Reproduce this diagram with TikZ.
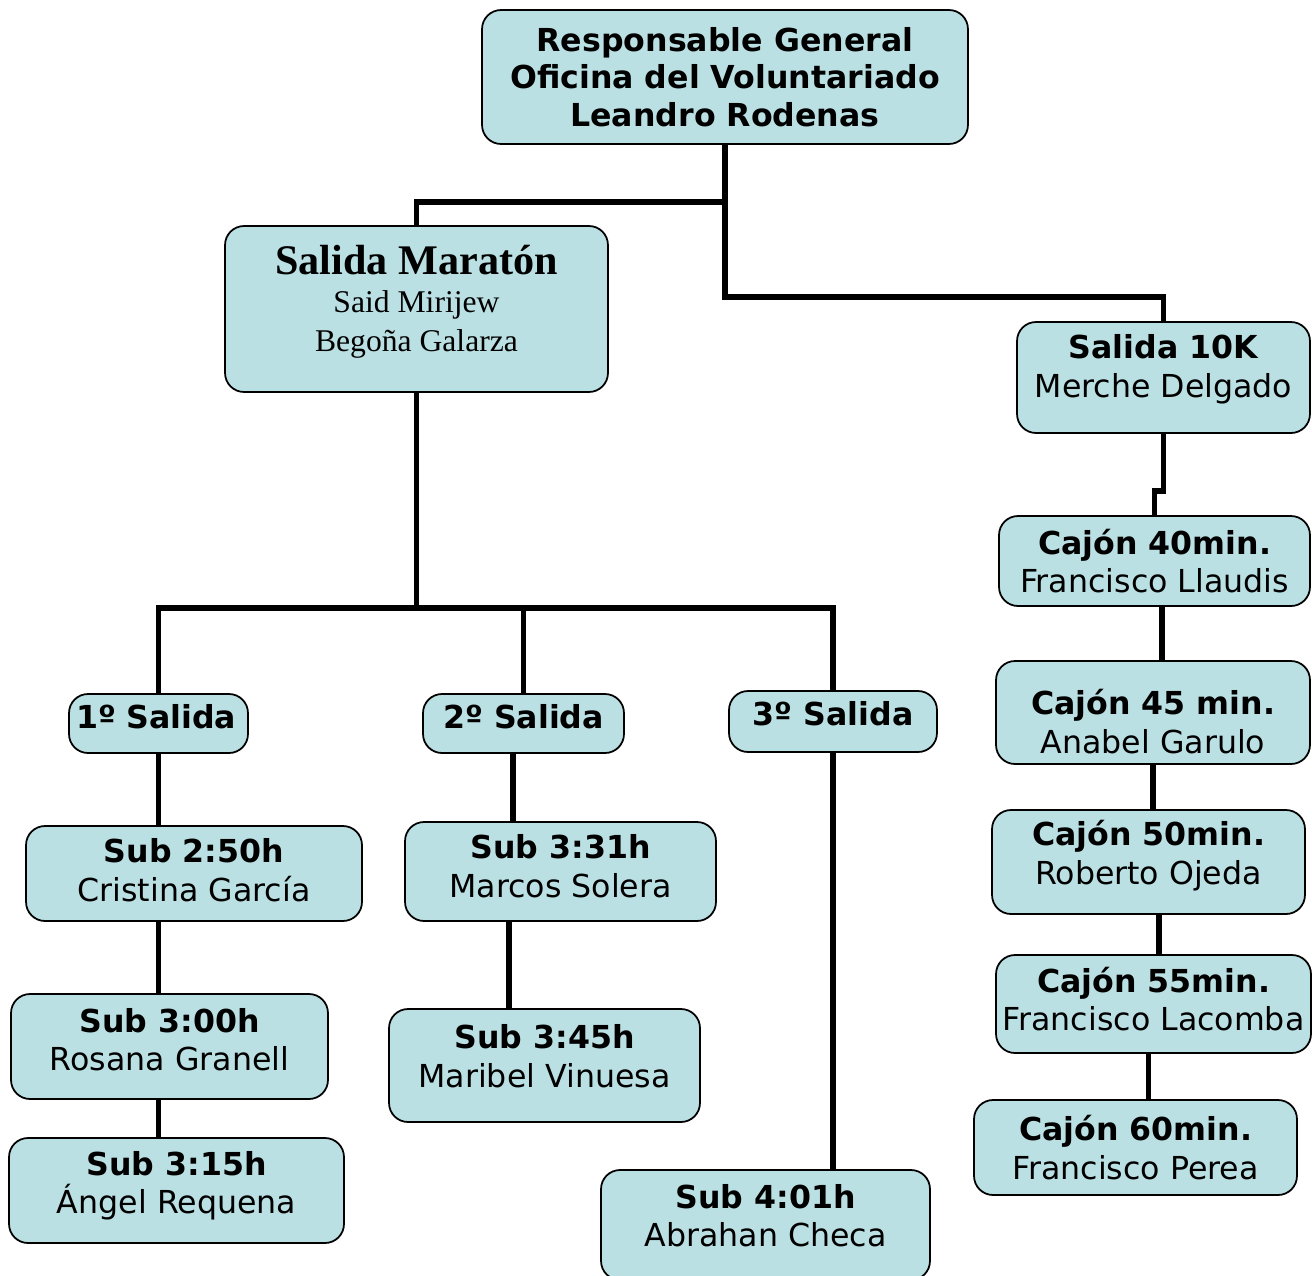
\documentclass[tikz,border=0pt]{standalone}
\usepackage{fontspec}
\setmainfont{DejaVu Sans}
\newfontfamily\serifface{Liberation Serif}
\definecolor{boxfill}{HTML}{BBE0E3}
\tikzset{orgbox/.style={rectangle,rounded corners=0.38cm,draw=black,fill=boxfill,line width=1pt,align=center,inner sep=0pt,font=\fontsize{18}{22}\selectfont}}
\tikzset{salida/.style={orgbox,minimum height=1.18cm}}
\tikzset{link/.style={line width=3.3pt}}

\begin{document}
\begin{tikzpicture}[x=0.02cm,y=-0.02cm]
\useasboundingbox (0,0) rectangle (1312,1275);
% head of the chart
\node (jefe) [orgbox, minimum width=9.72cm, minimum height=2.68cm, font=\fontsize{18}{21.5}\selectfont\bfseries] at (725,77) {Responsable General\\Oficina del Voluntariado\\Leandro Rodenas};
\node (mar) [orgbox, minimum width=7.66cm, minimum height=3.32cm, font=\serifface\fontsize{18}{22}\selectfont] at (416.5,309) {{\fontsize{24}{28}\selectfont\bfseries Salida Maratón}\\Said Mirijew\\Begoña Galarza\rule[-12.5pt]{0pt}{12.5pt}};
% salida 10K column
\node (k10) [orgbox, minimum width=5.86cm, minimum height=2.22cm] at (1163.5,377.5) {{\bfseries Salida 10K}\\Merche Delgado\rule[-13pt]{0pt}{13pt}};
\node (c40) [orgbox, minimum width=6.22cm, minimum height=1.8cm] at (1154.5,561) {{\bfseries Cajón 40min.}\\Francisco Llaudis};
\node (c45) [orgbox, minimum width=6.28cm, minimum height=2.06cm] at (1153,712.5) {{\bfseries Cajón 45 min.}\rule{0pt}{24.5pt}\\Anabel Garulo};
\node (c50) [orgbox, minimum width=6.26cm, minimum height=2.08cm] at (1148.5,862) {{\bfseries Cajón 50min.}\\Roberto Ojeda\rule[-11pt]{0pt}{11pt}};
\node (c55) [orgbox, minimum width=6.3cm, minimum height=1.96cm] at (1153.5,1004) {{\bfseries Cajón 55min.}\\Francisco Lacomba\rule[-6pt]{0pt}{6pt}};
\node (c60) [orgbox, minimum width=6.46cm, minimum height=1.9cm] at (1135.5,1147.5) {{\bfseries Cajón 60min.}\\Francisco Perea};
% salidas del maraton
\node (s1) [salida, text width=3.3cm, inner xsep=0.14cm, align=left] at (158.5,723.5) {\bfseries 1º Salida\rule[-8pt]{0pt}{8pt}};
\node (s2) [salida, minimum width=4.02cm] at (523.5,723.5) {\bfseries 2º Salida\rule[-8pt]{0pt}{8pt}};
\node (s3) [salida, minimum width=4.16cm, minimum height=1.22cm] at (833,721.5) {\bfseries 3º Salida\rule[-9pt]{0pt}{9pt}};
\node (sub250) [orgbox, minimum width=6.72cm, minimum height=1.9cm] at (194,873.5) {{\bfseries Sub 2:50h}\\Cristina García\rule[-4pt]{0pt}{4pt}};
\node (sub300) [orgbox, minimum width=6.34cm, minimum height=2.1cm] at (169.5,1046.5) {{\bfseries Sub 3:00h}\\Rosana Granell\rule[-8pt]{0pt}{8pt}};
\node (sub315) [orgbox, minimum width=6.7cm, minimum height=2.1cm] at (176.5,1190.5) {{\bfseries Sub 3:15h}\\Ángel Requena\rule[-9pt]{0pt}{9pt}};
\node (sub331) [orgbox, minimum width=6.22cm, minimum height=1.98cm] at (560.5,871.5) {{\bfseries Sub 3:31h}\\Marcos Solera\rule[-6pt]{0pt}{6pt}};
\node (sub345) [orgbox, minimum width=6.22cm, minimum height=2.26cm] at (544.5,1065.5) {{\bfseries Sub 3:45h}\\Maribel Vinuesa\rule[-11pt]{0pt}{11pt}};
\node (sub401) [orgbox, minimum width=6.58cm, minimum height=2.2cm] at (765.5,1225) {{\bfseries Sub 4:01h}\\Abrahan Checa\rule[-11pt]{0pt}{11pt}};
% connectors
\draw [link] (jefe.south) -- ++(0,57) -| (mar.north);
\draw [link] (jefe.south) -- ++(0,152) -| (k10.north);
\draw [link] (k10.south) -- ++(0,57) -| (c40.north);
\draw [link] ([xshift=0.15cm]c40.south) -- ++(0,55);
\draw [link] (c45.south) -- (c45.south |- c50.north);
\draw [link] ([xshift=0.21cm]c50.south) -- ++(0,41);
\draw [link] ([xshift=-0.1cm]c55.south) -- ++(0,47);
\draw [link] (mar.south) -- ++(0,215) coordinate (hub);
\draw [link] (hub) -| (s1.north);
\draw [link] (hub) -| (s2.north);
\draw [link] (hub) -| (s3.north);
\draw [link] (s1.south) -- (s1.south |- sub250.north);
\draw [link] (s1.south |- sub250.south) -- (s1.south |- sub300.north);
\draw [link] (s1.south |- sub300.south) -- (s1.south |- sub315.north);
\draw [link] ([xshift=-0.21cm]s2.south) -- ++(0,69);
\draw [link] ([xshift=-1.03cm]sub331.south) -- ++(0,88);
\draw [link] (s3.south) -- (s3.south |- sub401.north);
\end{tikzpicture}
\end{document}
